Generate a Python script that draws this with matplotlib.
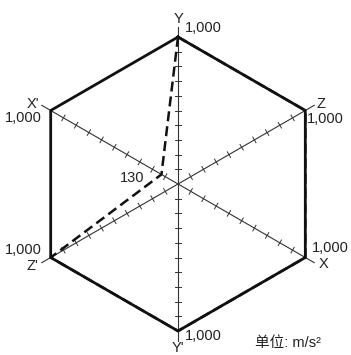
import numpy as np
import matplotlib
matplotlib.use('Agg')
import matplotlib.pyplot as plt

plt.rcParams['font.family'] = ['Liberation Sans', 'Noto Sans CJK SC', 'DejaVu Sans']

# axes clockwise from top
axis_names = ['Y', 'Z', 'X', "Y'", "Z'", "X'"]
limit_vals = [1000, 1000, 1000, 1000, 1000, 1000]
measured_vals = [1000, 1000, 1000, 1000, 1000, 130]
tick_vals = [100, 200, 300, 400, 500, 600, 700, 800, 900]

angles = np.radians(90 - 60 * np.arange(6))

fig = plt.figure(figsize=(3.51, 3.55), dpi=100)
ax = fig.add_axes([0, 0, 1, 1])
s = 0.147  # px per unit
ax.set_xlim(-178 / s, (351 - 178) / s)
ax.set_ylim(-(355 - 184) / s, 184 / s)
ax.axis('off')

# axis lines with ticks
for a in angles:
    ext = 1070
    ax.plot([0, ext * np.cos(a)], [0, ext * np.sin(a)], color='#333333', lw=0.8, zorder=1)
    px, py = -np.sin(a), np.cos(a)
    for t in tick_vals:
        cx, cy = t * np.cos(a), t * np.sin(a)
        ax.plot([cx - 22 * px, cx + 22 * px], [cy - 22 * py, cy + 22 * py],
                color='#333333', lw=0.7, zorder=1)

def poly(vals):
    v = np.array(vals + vals[:1], dtype=float)
    aa = np.concatenate([angles, angles[:1]])
    return v * np.cos(aa), v * np.sin(aa)

x1, y1 = poly(limit_vals)
ax.plot(x1, y1, color='#111111', lw=2.0, zorder=2)
x2, y2 = poly(measured_vals)
ax.plot(x2, y2, color='#111111', lw=1.8, ls=(0, (4, 2)), zorder=3)

fs = 10.5
# axis name labels and value labels (offsets in px)
name_off = [(0, 18), (16, 7), (18, -7), (0, -17), (-18, -8), (-18, 7)]
val_off = [(7, 9), (2, -8), (7, 9), (7, -5), (-9, 7), (-9, -8)]
val_ha = ['left', 'left', 'left', 'left', 'right', 'right']
for i, a in enumerate(angles):
    vx, vy = 1000 * np.cos(a), 1000 * np.sin(a)
    dx, dy = name_off[i]
    ax.text(vx + dx / s, vy + dy / s, axis_names[i], fontsize=fs,
            ha='center', va='center', color='#222222')
    dx, dy = val_off[i]
    ax.text(vx + dx / s, vy + dy / s, '1,000', fontsize=fs,
            ha=val_ha[i], va='center', color='#222222')

# label for the low value
a = angles[5]
lx, ly = measured_vals[5] * np.cos(a), measured_vals[5] * np.sin(a)
ax.text(lx - 17 / s, ly - 4 / s, str(measured_vals[5]), fontsize=fs,
        ha='right', va='center', color='#222222')

ax.text((255 - 178) / s, (184 - 343) / s, '单位: m/s²', fontsize=10.5,
        ha='left', va='center', color='#222222')

fig.savefig('out.png', dpi=100)
